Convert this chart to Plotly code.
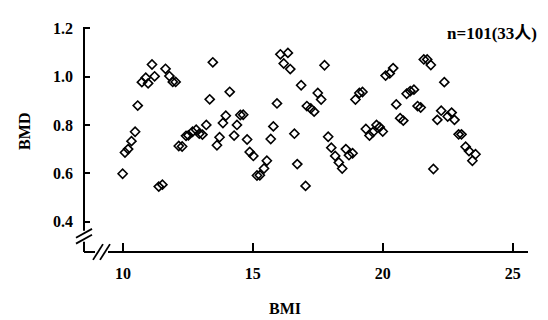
import plotly.graph_objects as go

# ---- data ----
bmi = [9.99, 10.08, 10.2, 10.33, 10.47, 10.57, 10.73, 10.88, 10.97, 11.12,
       11.22, 11.38, 11.52, 11.64, 11.79, 11.92, 12.03, 12.15, 12.28, 12.43,
       12.52, 12.68, 12.82, 12.94, 13.06, 13.21, 13.34, 13.46, 13.62, 13.72,
       13.85, 13.96, 14.11, 14.28, 14.39, 14.52, 14.63, 14.78, 14.88, 15.02,
       15.16, 15.27, 15.43, 15.54, 15.69, 15.79, 15.93, 16.06, 16.19, 16.35,
       16.44, 16.6, 16.71, 16.86, 17.03, 17.08, 17.23, 17.36, 17.5, 17.63,
       17.76, 17.9, 18.02, 18.17, 18.31, 18.44, 18.58, 18.7, 18.84, 18.95,
       19.1, 19.22, 19.35, 19.49, 19.62, 19.76, 19.88, 20.0, 20.11, 20.27,
       20.4, 20.52, 20.67, 20.79, 20.92, 21.06, 21.2, 21.34, 21.46, 21.58,
       21.71, 21.85, 21.95, 22.1, 22.25, 22.37, 22.5, 22.65, 22.76, 22.92,
       23.03, 23.19, 23.32, 23.45, 23.57]
bmd = [0.598, 0.686, 0.700, 0.733, 0.772, 0.880, 0.977, 0.995, 0.972, 1.050,
       1.001, 0.545, 0.553, 1.032, 1.002, 0.978, 0.978, 0.713, 0.711, 0.755,
       0.757, 0.772, 0.780, 0.764, 0.760, 0.800, 0.906, 1.059, 0.716, 0.749,
       0.808, 0.838, 0.937, 0.756, 0.800, 0.841, 0.842, 0.740, 0.688, 0.672,
       0.591, 0.592, 0.620, 0.652, 0.742, 0.794, 0.889, 1.092, 1.054, 1.098,
       1.031, 0.764, 0.638, 0.964, 0.548, 0.878, 0.868, 0.855, 0.932, 0.905,
       1.047, 0.751, 0.706, 0.672, 0.645, 0.620, 0.700, 0.675, 0.683, 0.905,
       0.932, 0.936, 0.783, 0.756, 0.770, 0.800, 0.791, 0.773, 1.004, 1.013,
       1.035, 0.885, 0.828, 0.818, 0.929, 0.940, 0.946, 0.878, 0.872, 1.071,
       1.071, 1.048, 0.618, 0.821, 0.859, 0.977, 0.835, 0.851, 0.821, 0.761,
       0.761, 0.710, 0.692, 0.652, 0.679]

x_ticks = [10, 15, 20, 25]
y_ticks = [0.4, 0.6, 0.8, 1.0, 1.2]
x_title = "BMI"
y_title = "BMD"
note = "n=101(33人)"

# ---- layout geometry (pixels) ----
W, H = 548, 320
L, R, T, B = 76, 520, 16, 244.5

def px(xp):
    return (xp - L) / (R - L)

def py(yp):
    return (B - yp) / (B - T)

FONT = "Liberation Serif, Times New Roman, Noto Sans CJK SC, serif"

fig = go.Figure()
fig.add_trace(go.Scatter(
    x=bmi, y=bmd, mode="markers",
    marker=dict(symbol="diamond-open", size=7, color="black",
                line=dict(color="black", width=1.6)),
    showlegend=False, cliponaxis=False,
))

line = dict(color="black", width=2)
shapes = []
# y-axis line with break
shapes.append(dict(type="line", xref="paper", yref="paper",
                   x0=0, x1=0, y0=py(T), y1=py(223), line=line))
shapes.append(dict(type="line", xref="paper", yref="paper",
                   x0=0, x1=0, y0=py(234), y1=py(B), line=line))
for cy in (225.5, 231.5):
    shapes.append(dict(type="line", xref="paper", yref="paper",
                       x0=px(68), y0=py(cy + 4.5), x1=px(84), y1=py(cy - 4.5),
                       line=dict(color="black", width=1.8)))
# x-axis line with break
shapes.append(dict(type="line", xref="paper", yref="paper",
                   x0=px(L), x1=px(87), y0=0, y1=0, line=line))
shapes.append(dict(type="line", xref="paper", yref="paper",
                   x0=px(100), x1=px(R), y0=0, y1=0, line=line))
for cx in (90, 97):
    shapes.append(dict(type="line", xref="paper", yref="paper",
                       x0=px(cx - 5), y0=py(252.5), x1=px(cx + 5), y1=py(236.5),
                       line=dict(color="black", width=1.8)))

annotations = [
    dict(text=note, xref="paper", yref="paper", x=px(437), y=py(23),
         xanchor="left", yanchor="middle", showarrow=False,
         font=dict(family=FONT, size=17, color="black", weight="bold")),
    dict(text=y_title, xref="paper", yref="paper", x=px(16.5), y=py(122),
         xanchor="center", yanchor="middle", textangle=-90, showarrow=False,
         font=dict(family=FONT, size=16, color="black", weight="bold")),
    dict(text=x_title, xref="paper", yref="paper", x=px(277), y=py(302),
         xanchor="center", yanchor="middle", showarrow=False,
         font=dict(family=FONT, size=16, color="black", weight="bold")),
]

fig.update_layout(
    width=W, height=H,
    margin=dict(l=L, r=W - R, t=T, b=H - B),
    paper_bgcolor="white", plot_bgcolor="white",
    shapes=shapes, annotations=annotations,
    xaxis=dict(range=[8.503, 25.59], tickvals=x_ticks, ticktext=[str(v) for v in x_ticks],
               ticks="inside", ticklen=9, tickwidth=1.6, tickcolor="black",
               showgrid=False, zeroline=False, showline=False,
               ticklabelstandoff=10,
               tickfont=dict(family=FONT, size=16, color="black", weight="bold")),
    yaxis=dict(range=[0.2746, 1.205], tickvals=y_ticks,
               ticktext=["%.1f" % v for v in y_ticks],
               ticks="inside", ticklen=6, tickwidth=2, tickcolor="black",
               showgrid=False, zeroline=False, showline=False,
               ticklabelstandoff=10,
               tickfont=dict(family=FONT, size=16, color="black", weight="bold")),
)

fig.write_html("out.html")
